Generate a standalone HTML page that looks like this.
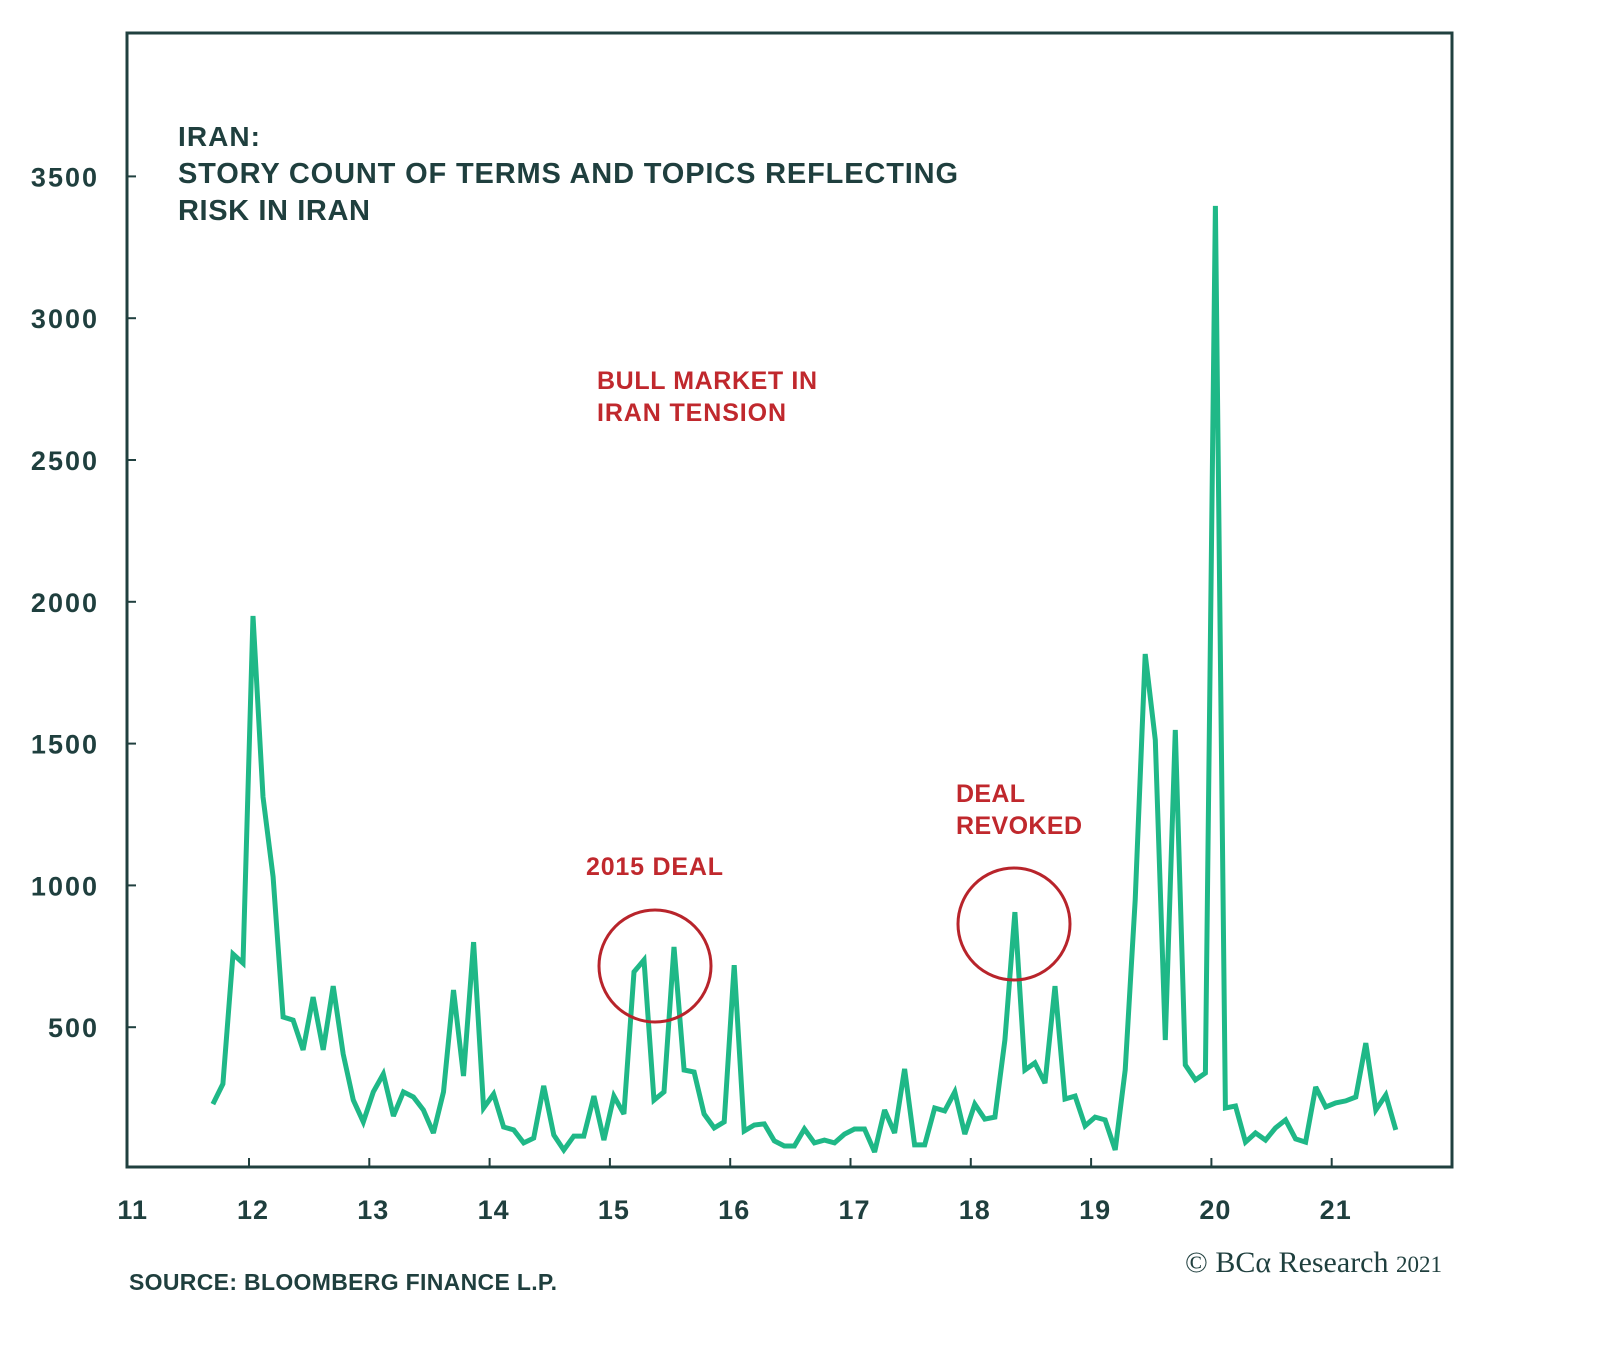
<!DOCTYPE html>
<html><head><meta charset="utf-8"><style>
body{margin:0;background:#fff;}
svg text{font-family:"Liberation Sans",sans-serif;}
</style></head><body>
<svg id="chart" width="1600" height="1344" viewBox="0 0 1600 1344" xmlns="http://www.w3.org/2000/svg">
<rect x="0" y="0" width="1600" height="1344" fill="#fff"/>
<g id="grid"></g>
<g id="series"></g>
<text x="178" y="146" font-size="28" font-weight="bold" fill="#1f3f3e" textLength="82">IRAN:</text>
<text x="178" y="183" font-size="29" font-weight="bold" fill="#1f3f3e" textLength="780">STORY COUNT OF TERMS AND TOPICS REFLECTING</text>
<text x="178" y="220" font-size="29" font-weight="bold" fill="#1f3f3e" textLength="192">RISK IN IRAN</text>
<text x="597" y="389" font-size="25" font-weight="bold" fill="#c0282d" textLength="220">BULL MARKET IN</text>
<text x="597" y="421" font-size="25" font-weight="bold" fill="#c0282d" textLength="189">IRAN TENSION</text>
<text x="586" y="875" font-size="25" font-weight="bold" fill="#c0282d" textLength="137">2015 DEAL</text>
<text x="956" y="802" font-size="25" font-weight="bold" fill="#c0282d" textLength="69">DEAL</text>
<text x="956" y="834" font-size="25" font-weight="bold" fill="#c0282d" textLength="126">REVOKED</text>
<circle cx="655" cy="966" r="56" fill="none" stroke="#b8242b" stroke-width="3"/>
<circle cx="1014" cy="924" r="56" fill="none" stroke="#b8242b" stroke-width="3"/>
<text x="129" y="1290" font-size="23" font-weight="bold" fill="#1f3f3e" textLength="428">SOURCE: BLOOMBERG FINANCE L.P.</text>
<text x="1442" y="1272" font-size="30" text-anchor="end" fill="#1f3f3e" style="font-family:'Liberation Serif',serif">© BCα Research <tspan font-size="23">2021</tspan></text>
</svg>
<script>
const xTickLabels=["11","12","13","14","15","16","17","18","19","20","21"];
const yTickValues=[500,1000,1500,2000,2500,3000,3500];
const startYear=2011+8/12;
const values=[229,300,758,726,1950,1312,1030,536,525,420,606,420,645,405,243,166,272,335,187,272,254,208,127,272,631,328,800,215,264,148,138,92,109,293,120,67,116,116,257,102,257,194,695,737,243,272,783,349,342,194,145,166,719,134,155,159,99,81,81,141,92,102,92,123,141,141,60,208,127,353,85,85,215,205,272,123,229,176,183,455,906,349,374,303,645,247,257,152,183,173,67,349,949,1816,1513,455,1548,367,314,338,3396,215,222,95,127,102,145,173,106,95,289,219,233,240,254,444,208,261,138];

const NS="http://www.w3.org/2000/svg";
const L=127,R=1452,T=33,B=1167;
const xS=y=>253+(y-2012)*120.3;
const yS=v=>1169-v*141.8/500;
const grid=document.getElementById('grid');
const ser=document.getElementById('series');
function mk(tag,attrs,parent){const e=document.createElementNS(NS,tag);for(const k in attrs)e.setAttribute(k,attrs[k]);parent.appendChild(e);return e;}
const frame=mk('rect',{x:L,y:T,width:R-L,height:B-T,fill:'none',stroke:'#20403f','stroke-width':3},grid);


yTickValues.forEach(v=>{
  const y=yS(v);
  const t=mk('line',{x1:L,x2:L+9,y1:y,y2:y,stroke:'#20403f','stroke-width':2},grid);
  
  
  const tx=mk('text',{x:99,y:y+10,'font-size':27,'font-weight':'bold','text-anchor':'end',fill:'#1f3f3e','letter-spacing':2},grid);
  tx.textContent=v;
  
  
});
xTickLabels.forEach((lab,i)=>{
  const x=xS(2011+i)-4;
  if(i>0){
    const t=mk('line',{x1:x,x2:x,y1:B,y2:B-9,stroke:'#20403f','stroke-width':2},grid);
    
    
  }
  const tx=mk('text',{x:x+4,y:1219,'font-size':27,'font-weight':'bold','text-anchor':'middle',fill:'#1f3f3e','letter-spacing':1},grid);
  tx.textContent=lab;
  
  
});
const pts=values.map((v,i)=>xS(startYear+i/12).toFixed(1)+','+yS(v).toFixed(1)).join(' ');
const line=mk('polyline',{points:pts,fill:'none',stroke:'#1fb887','stroke-width':5,'stroke-linejoin':'miter','stroke-miterlimit':3},ser);


</script>
</body></html>
